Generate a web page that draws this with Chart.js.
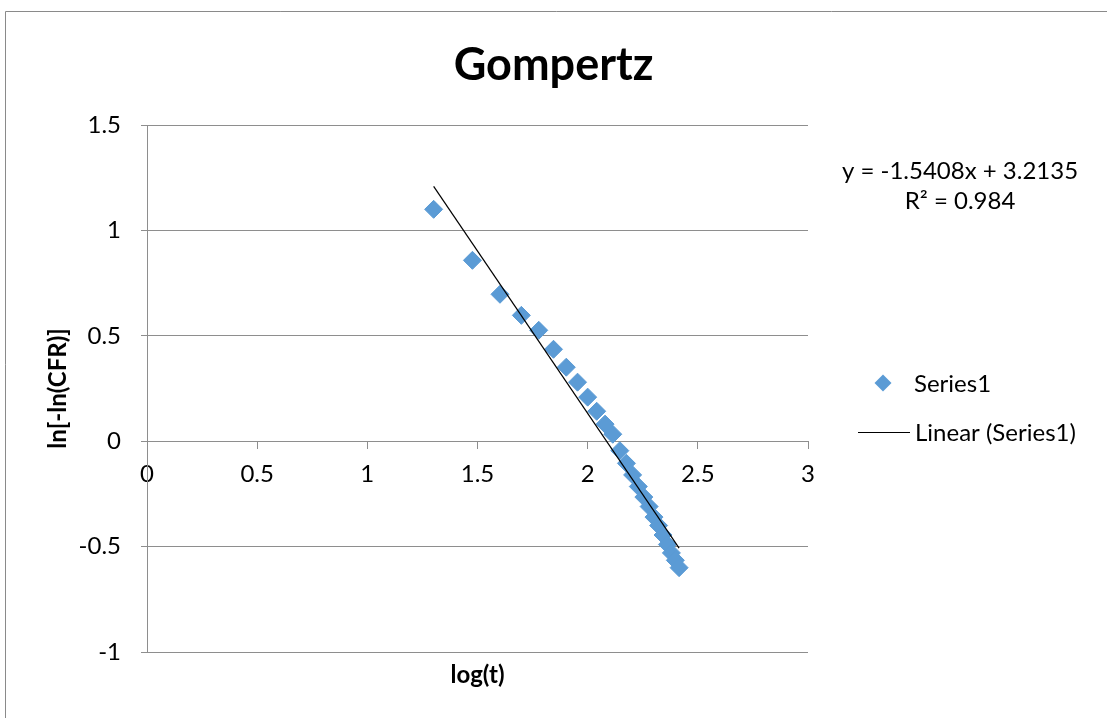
<!DOCTYPE html>
<html>
<head>
<meta charset="utf-8">
<script src="https://cdn.jsdelivr.net/npm/chart.js@4"></script>
<style>
  html, body { margin: 0; padding: 0; background: #ffffff; }
  canvas { display: block; }
</style>
</head>
<body>
<canvas id="c" width="1107" height="718"></canvas>
<script>
// ---- Data ----
const logT = [1.301, 1.477, 1.602, 1.699, 1.778, 1.845, 1.903, 1.954, 2.000, 2.041,
              2.079, 2.114, 2.146, 2.176, 2.204, 2.230, 2.255, 2.279, 2.301, 2.322,
              2.342, 2.362, 2.380, 2.398, 2.415];
const lnLnCFR = [1.100, 0.858, 0.697, 0.597, 0.526, 0.436, 0.351, 0.280, 0.209, 0.142,
                 0.081, 0.033, -0.045, -0.105, -0.160, -0.215, -0.265, -0.310, -0.360, -0.400,
                 -0.445, -0.490, -0.530, -0.565, -0.600];
const xTickLabels = ['0', '0.5', '1', '1.5', '2', '2.5', '3'];
const yTickLabels = ['-1', '-0.5', '0', '0.5', '1', '1.5'];
const xTickValues = [0, 0.5, 1, 1.5, 2, 2.5, 3];
const yTickValues = [-1, -0.5, 0, 0.5, 1, 1.5];
const trendSlope = -1.5408;
const trendIntercept = 3.2135;
const trendR2 = 0.984;
const seriesName = 'Series1';
const trendName = 'Linear (Series1)';
const chartTitle = 'Gompertz';
const xTitle = 'log(t)';
const yTitle = 'ln[-ln(CFR)]';

const FONT = 'Lato, "Open Sans", "DejaVu Sans", sans-serif';
const GRID = '#8e8e8e';
const BLUE = '#5B9BD5';

const scatterPts = logT.map((x, i) => ({ x: x, y: lnLnCFR[i] }));
const xMinData = Math.min(...logT), xMaxData = Math.max(...logT);
const trendPts = [xMinData, xMaxData].map(x => ({ x: x, y: trendSlope * x + trendIntercept }));

const fmtTick = (labels, values) => (v) => {
  const i = values.findIndex(t => Math.abs(t - v) < 1e-9);
  return i >= 0 ? labels[i] : '';
};

const framePlugin = {
  id: 'frame',
  beforeDraw(chart) {
    const ctx = chart.ctx;
    ctx.save();
    ctx.fillStyle = '#ffffff';
    ctx.fillRect(0, 0, chart.width, chart.height);
    ctx.strokeStyle = '#8a8a8a';
    ctx.lineWidth = 1;
    ctx.beginPath();
    ctx.moveTo(5.5, chart.height);
    ctx.lineTo(5.5, 11.5);
    ctx.lineTo(chart.width, 11.5);
    ctx.stroke();
    ctx.restore();
  }
};

const legendPlugin = {
  id: 'customLegend',
  afterDraw(chart) {
    const ctx = chart.ctx;
    const ds = chart.data.datasets;
    ctx.save();
    ctx.font = '24px ' + FONT;
    ctx.fillStyle = '#000000';
    ctx.textBaseline = 'middle';
    // equation text
    ctx.textAlign = 'center';
    ctx.fillText('y = ' + trendSlope.toFixed(4) + 'x + ' + trendIntercept.toFixed(4), 960, 171);
    ctx.fillText('R\u00B2 = ' + trendR2, 960, 201);
    // legend entry: series
    ctx.textAlign = 'left';
    const s = ds.find(d => d.label === seriesName);
    ctx.fillStyle = s.backgroundColor;
    ctx.beginPath();
    const cx = 883, cy = 383, r = 8.5;
    ctx.moveTo(cx - r, cy); ctx.lineTo(cx, cy - r); ctx.lineTo(cx + r, cy); ctx.lineTo(cx, cy + r);
    ctx.closePath(); ctx.fill();
    ctx.fillStyle = '#000000';
    ctx.fillText(s.label, 914, 384);
    // legend entry: trend line
    const t = ds.find(d => d.label === trendName);
    ctx.strokeStyle = t.borderColor;
    ctx.lineWidth = 1.2;
    ctx.beginPath(); ctx.moveTo(858, 432.5); ctx.lineTo(910, 432.5); ctx.stroke();
    ctx.fillText(t.label, 915, 433);
    ctx.restore();
  }
};

new Chart(document.getElementById('c'), {
  type: 'scatter',
  data: {
    datasets: [
      {
        label: trendName,
        type: 'line',
        data: trendPts,
        borderColor: '#000000',
        borderWidth: 1.2,
        pointRadius: 0,
        fill: false,
        showLine: true,
        order: 0
      },
      {
        label: seriesName,
        data: scatterPts,
        pointStyle: 'rectRot',
        pointRadius: 9,
        pointBorderWidth: 1,
        backgroundColor: BLUE,
        borderColor: BLUE,
        showLine: false,
        order: 1
      }
    ]
  },
  options: {
    responsive: false,
    devicePixelRatio: 1,
    animation: false,
    events: [],
    layout: { padding: 0 },
    plugins: {
      legend: { display: false },
      tooltip: { enabled: false },
      title: {
        display: true,
        text: chartTitle,
        color: '#000000',
        font: { family: FONT, size: 45, weight: 'bold', lineHeight: 1.2 },
        padding: { top: 38, bottom: 33 }
      }
    },
    scales: {
      x: {
        type: 'linear',
        position: { y: 0 },
        min: 0, max: 3,
        afterBuildTicks: (s) => { s.ticks = xTickValues.map(v => ({ value: v })); },
        ticks: {
          color: '#000000',
          font: { family: FONT, size: 24 },
          padding: 12,
          maxRotation: 0,
          callback: fmtTick(xTickLabels, xTickValues)
        },
        grid: { display: true, drawOnChartArea: false, drawTicks: true, tickLength: 7, color: GRID },
        border: { display: true, color: GRID, width: 1 }
      },
      x2: {
        type: 'linear',
        position: 'bottom',
        min: 0, max: 3,
        ticks: { display: false },
        grid: { display: false },
        border: { display: false },
        title: {
          display: true,
          text: xTitle,
          color: '#000000',
          font: { family: FONT, size: 24, weight: 'bold', lineHeight: 1.2 },
          padding: { top: 0, bottom: 28.6 }
        },
        afterFit: (s) => { s.height = 66; }
      },
      y: {
        type: 'linear',
        position: 'left',
        min: -1, max: 1.5,
        afterBuildTicks: (s) => { s.ticks = yTickValues.map(v => ({ value: v })); },
        ticks: {
          color: '#000000',
          font: { family: FONT, size: 24 },
          padding: 20,
          callback: fmtTick(yTickLabels, yTickValues)
        },
        grid: { display: true, drawOnChartArea: true, drawTicks: true, tickLength: 6, color: GRID },
        border: { display: true, color: GRID, width: 1 },
        title: {
          display: true,
          text: yTitle,
          color: '#000000',
          font: { family: FONT, size: 24, weight: 'bold', lineHeight: 1.2 },
          padding: { top: 43.6, bottom: 0 }
        },
        afterFit: (s) => { s.width = 147; }
      },
      yR: {
        type: 'linear',
        position: 'right',
        min: -1, max: 1.5,
        ticks: { display: false },
        grid: { display: false },
        border: { display: false },
        afterFit: (s) => { s.width = 299; }
      }
    }
  },
  plugins: [framePlugin, legendPlugin]
});
</script>
</body>
</html>
